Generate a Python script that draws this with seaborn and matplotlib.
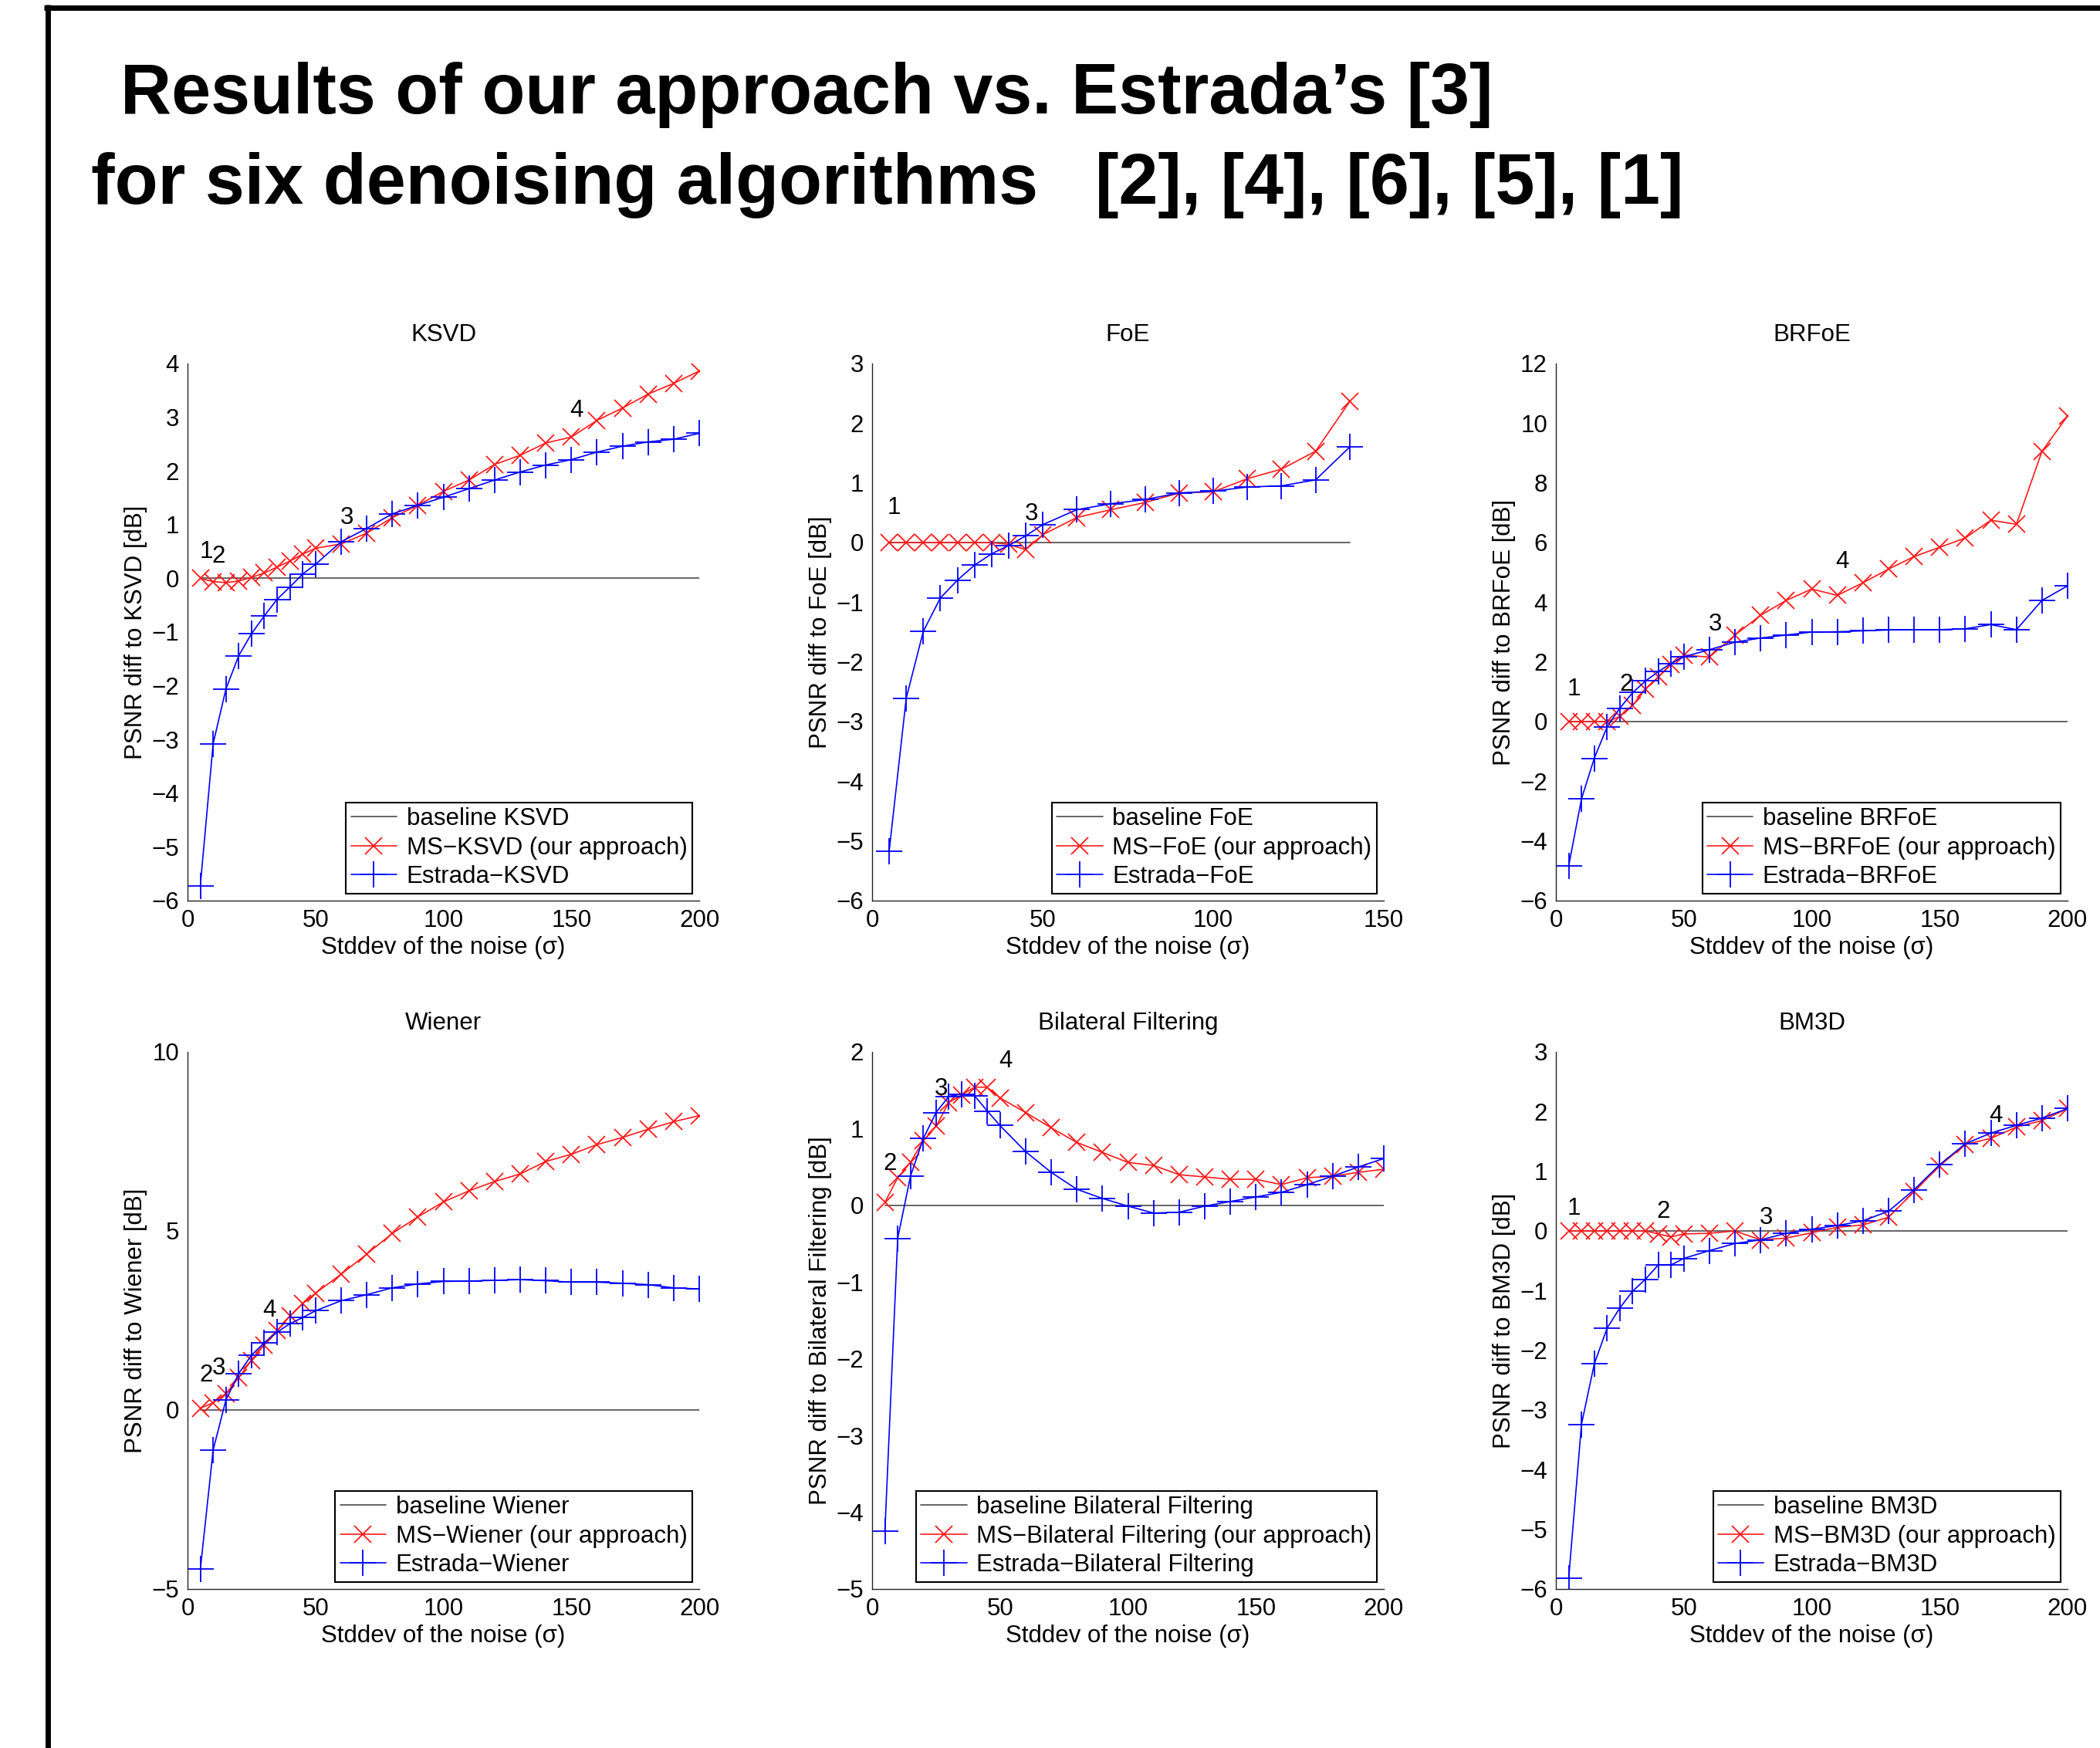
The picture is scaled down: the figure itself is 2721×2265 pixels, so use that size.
import matplotlib
matplotlib.use("Agg")
import matplotlib.pyplot as plt
import seaborn as sns
import pandas as pd
from matplotlib.lines import Line2D

sns.set_theme(style="white")
plt.rcParams["font.family"] = ["Liberation Sans", "DejaVu Sans"]
plt.rcParams["text.color"] = "black"
plt.rcParams["axes.labelcolor"] = "black"
plt.rcParams["xtick.color"] = "black"
plt.rcParams["ytick.color"] = "black"

# ---------------- data ----------------
sigma_200 = [5, 10, 15, 20, 25, 30, 35, 40, 45, 50, 60, 70, 80, 90, 100,
             110, 120, 130, 140, 150, 160, 170, 180, 190, 200]
sigma_150 = [5, 10, 15, 20, 25, 30, 35, 40, 45, 50, 60, 70, 80, 90, 100,
             110, 120, 130, 140]

ksvd_ms = [0, -0.06, -0.08, -0.05, 0.02, 0.10, 0.21, 0.32, 0.45, 0.56, 0.64, 0.84, 1.13,
           1.36, 1.62, 1.83, 2.12, 2.29, 2.52, 2.63, 2.94, 3.17, 3.43, 3.63, 3.86]
ksvd_estrada = [-5.72, -3.08, -2.06, -1.44, -1.03, -0.70, -0.39, -0.16, 0.08, 0.26, 0.68,
                0.93, 1.20, 1.36, 1.51, 1.67, 1.83, 1.98, 2.11, 2.21, 2.35, 2.46, 2.54,
                2.59, 2.70]

foe_ms = [0, 0, 0, 0, 0, 0, 0, -0.03, -0.12, 0.13, 0.42, 0.55, 0.67, 0.83, 0.85, 1.07,
          1.23, 1.53, 2.36]
foe_estrada = [-5.17, -2.61, -1.49, -0.93, -0.63, -0.38, -0.19, -0.05, 0.11, 0.30, 0.55,
               0.65, 0.72, 0.83, 0.86, 0.93, 0.95, 1.05, 1.60]

brfoe_ms = [0, 0, 0, 0, 0.17, 0.55, 1.08, 1.50, 1.92, 2.23, 2.16, 2.90, 3.56, 4.06, 4.44,
            4.23, 4.65, 5.11, 5.53, 5.84, 6.15, 6.75, 6.61, 9.06, 10.24]
brfoe_estrada = [-4.84, -2.59, -1.23, -0.18, 0.45, 0.97, 1.36, 1.67, 1.95, 2.17, 2.41,
                 2.66, 2.80, 2.90, 3.00, 3.01, 3.04, 3.07, 3.08, 3.08, 3.11, 3.25, 3.08,
                 4.06, 4.55]

wiener_ms = [0.05, 0.20, 0.46, 0.90, 1.39, 1.82, 2.21, 2.62, 2.97, 3.26, 3.79, 4.35, 4.93,
             5.39, 5.81, 6.12, 6.38, 6.59, 6.94, 7.14, 7.41, 7.61, 7.84, 8.05, 8.22]
wiener_estrada = [-4.45, -1.12, 0.28, 1.02, 1.53, 1.88, 2.17, 2.41, 2.58, 2.77, 3.05, 3.22,
                  3.41, 3.52, 3.59, 3.60, 3.62, 3.64, 3.61, 3.57, 3.57, 3.54, 3.50, 3.41,
                  3.38]

bilateral_ms = [0.04, 0.36, 0.56, 0.84, 1.03, 1.34, 1.44, 1.54, 1.54, 1.40, 1.21, 1.01,
                0.82, 0.69, 0.56, 0.52, 0.40, 0.37, 0.34, 0.34, 0.27, 0.36, 0.38, 0.43,
                0.47]
bilateral_estrada = [-4.25, -0.43, 0.38, 0.87, 1.21, 1.42, 1.45, 1.43, 1.23, 1.04, 0.70,
                     0.43, 0.21, 0.09, -0.01, -0.10, -0.09, -0.01, 0.05, 0.11, 0.17, 0.27,
                     0.38, 0.50, 0.61]

bm3d_ms = [0, 0, 0, 0, 0, 0, 0, -0.05, -0.10, -0.05, -0.04, 0, -0.15, -0.12, -0.03, 0.06,
           0.10, 0.23, 0.66, 1.09, 1.45, 1.55, 1.74, 1.85, 2.05]
bm3d_estrada = [-5.82, -3.24, -2.23, -1.63, -1.29, -1.01, -0.81, -0.57, -0.57, -0.46,
                -0.33, -0.21, -0.15, -0.04, 0.03, 0.09, 0.17, 0.33, 0.69, 1.11, 1.46,
                1.64, 1.77, 1.89, 2.05]

names = ["KSVD", "FoE", "BRFoE", "Wiener", "Bilateral Filtering", "BM3D"]
sigmas = [sigma_200, sigma_150, sigma_200, sigma_200, sigma_200, sigma_200]
ms_vals = [ksvd_ms, foe_ms, brfoe_ms, wiener_ms, bilateral_ms, bm3d_ms]
es_vals = [ksvd_estrada, foe_estrada, brfoe_estrada, wiener_estrada, bilateral_estrada,
           bm3d_estrada]
xlims = [(0, 200), (0, 150), (0, 200), (0, 200), (0, 200), (0, 200)]
ylims = [(-6, 4), (-6, 3), (-6, 12), (-5, 10), (-5, 2), (-6, 3)]
ysteps = [1, 1, 2, 5, 1, 1]
xsteps = [50, 50, 50, 50, 50, 50]

# scale-step annotations: (text, sigma, value)
annotations = [
    [("1", 7.2, 0.50), ("2", 12.2, 0.41), ("3", 62.2, 1.13), ("4", 152, 3.12)],
    [("1", 6.5, 0.58), ("3", 46.6, 0.48)],
    [("1", 6.9, 1.08), ("2", 27.4, 1.25), ("3", 62.3, 3.25), ("4", 112, 5.35)],
    [("2", 7.2, 0.98), ("3", 12.2, 1.16), ("4", 32, 2.79)],
    [("2", 7.1, 0.54), ("3", 27.1, 1.52), ("4", 52.1, 1.88)],
    [("1", 7.1, 0.37), ("2", 42, 0.32), ("3", 82.3, 0.22), ("4", 171.8, 1.93)],
]

title_line1 = "Results of our approach vs. Estrada\u2019s [3]"
title_line2a = "for six denoising algorithms"
title_line2b = "[2], [4], [6], [5], [1]"

# ---------------- layout ----------------
W, H = 2721, 2265
fig = plt.figure(figsize=(W / 100, H / 100), dpi=100)
fig.patch.set_facecolor("white")

lefts = [243, 1130, 2016]
tops = [471, 1363]
aw, ah = 663, 696

FS = 22.5
for i, name in enumerate(names):
    r, c = divmod(i, 3)
    ax = fig.add_axes([lefts[c] / W, (H - tops[r] - ah) / H, aw / W, ah / H])
    ax.set_facecolor("white")
    x = sigmas[i]
    df = pd.DataFrame({"sigma": x, "baseline": [0.0] * len(x),
                       "ms": ms_vals[i], "estrada": es_vals[i]})
    sns.lineplot(data=df, x="sigma", y="baseline", ax=ax, color="#4a4a4a", lw=1.2,
                 label=f"baseline {name}")
    sns.lineplot(data=df, x="sigma", y="ms", ax=ax, color="#ff1a1a", lw=1.2,
                 marker="x", markersize=16, markeredgewidth=1.3,
                 markeredgecolor="#ff1a1a", markerfacecolor="none",
                 label=f"MS\u2212{name} (our approach)")
    sns.lineplot(data=df, x="sigma", y="estrada", ax=ax, color="#0000ff", lw=1.2,
                 marker="+", markersize=24, markeredgewidth=1.3,
                 markeredgecolor="#0000ff", markerfacecolor="none",
                 label=f"Estrada\u2212{name}")

    ax.set_xlim(*xlims[i])
    ax.set_ylim(*ylims[i])
    xs = list(range(xlims[i][0], xlims[i][1] + 1, xsteps[i]))
    ys = list(range(ylims[i][0], ylims[i][1] + 1, ysteps[i]))
    ax.set_xticks(xs)
    ax.set_yticks(ys)
    ax.set_xticklabels([str(v).replace("-", "\u2212") for v in xs])
    ax.set_yticklabels([str(v).replace("-", "\u2212") for v in ys])
    ax.tick_params(direction="in", length=7, width=1.0, labelsize=FS, pad=8,
                   color="#222222")
    for s in ["top", "right"]:
        ax.spines[s].set_visible(False)
    for s in ["left", "bottom"]:
        ax.spines[s].set_color("#222222")
        ax.spines[s].set_linewidth(1.0)
    ax.grid(False)

    ax.set_xlabel("Stddev of the noise (\u03c3)", fontsize=FS)
    ax.set_ylabel(f"PSNR diff to {name} [dB]", fontsize=FS)
    ax.xaxis.set_label_coords(0.5, -0.066)
    ax.yaxis.set_label_coords(-0.078, 0.5)
    ax.text(0.5, 1 + 37 / ah, name, transform=ax.transAxes, ha="center", va="center",
            fontsize=FS)

    for t, xv, yv in annotations[i]:
        ax.text(xv, yv, t, ha="center", va="center", fontsize=FS)

    leg = ax.legend(loc="lower right", frameon=True, fancybox=False, framealpha=1,
                    edgecolor="black", fontsize=FS, handlelength=1.9,
                    handletextpad=0.4, borderpad=0.2, labelspacing=0.25,
                    borderaxespad=0.3)
    leg.get_frame().set_linewidth(1.5)

# slide title
tfam = ["Liberation Sans", "DejaVu Sans"]
fig.text(156 / W, 1 - 147 / H, title_line1, ha="left", va="baseline", fontsize=66,
         fontweight="bold", family=tfam)
fig.text(118 / W, 1 - 264 / H, title_line2a, ha="left", va="baseline", fontsize=66,
         fontweight="bold", family=tfam)
fig.text(1800 / W, 1 - 264 / H, title_line2b, ha="center", va="baseline", fontsize=66,
         fontweight="bold", family=tfam)

# slide frame lines
fig.add_artist(Line2D([57 / W, 1], [1 - 9.5 / H, 1 - 9.5 / H], transform=fig.transFigure,
                      color="black", lw=5, solid_capstyle="butt"))
fig.add_artist(Line2D([61.5 / W, 61.5 / W], [0, 1 - 6 / H], transform=fig.transFigure,
                      color="black", lw=5, solid_capstyle="butt"))

fig.savefig("out.png", dpi=100, facecolor="white")
